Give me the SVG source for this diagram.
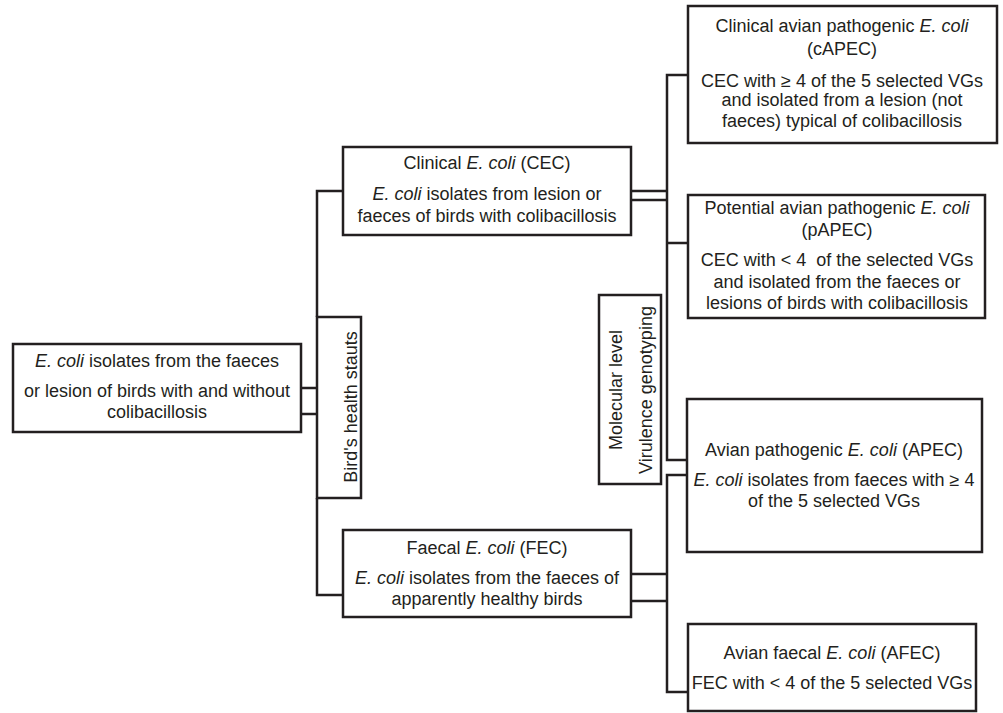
<svg xmlns="http://www.w3.org/2000/svg" width="1003" height="713" viewBox="0 0 1003 713">
<style>
.box{fill:#fff;stroke:#231f20;stroke-width:2.5}
.ln{fill:none;stroke:#231f20;stroke-width:2.5}
text{font-family:"Liberation Sans",Arial,sans-serif;font-size:18px;fill:#231f20;text-anchor:middle}
.i{font-style:italic}
</style>
<rect width="1003" height="713" fill="#fff"/>
<g id="connectors">
<path class="ln" d="M301,388H317M301,414H317"/>
<path class="ln" d="M343,191H317V317M317,498V595H343"/>
<path class="ln" d="M631,191H667M631,200H667"/>
<path class="ln" d="M688,75H667V460H687M667,243H688"/>
<path class="ln" d="M631,574H667M631,601H667"/>
<path class="ln" d="M687,475H667V692H688"/>
</g>
<g id="root">
<rect class="box" x="13" y="344" width="288" height="88"/>
<text x="157" y="367"><tspan class="i">E. coli</tspan> isolates from the faeces</text>
<text x="157" y="397">or lesion of birds with and without</text>
<text x="157" y="418">colibacillosis</text>
</g>
<g id="health">
<rect class="box" x="317" y="317" width="44" height="181"/>
<text transform="translate(357,407) rotate(-90)">Bird's health stauts</text>
</g>
<g id="cec">
<rect class="box" x="343" y="147" width="288" height="88"/>
<text x="487" y="169">Clinical <tspan class="i">E. coli</tspan> (CEC)</text>
<text x="487" y="200"><tspan class="i">E. coli</tspan> isolates from lesion or</text>
<text x="487" y="222">faeces of birds with colibacillosis</text>
</g>
<g id="fec">
<rect class="box" x="343" y="530" width="288" height="87"/>
<text x="487" y="554">Faecal <tspan class="i">E. coli</tspan> (FEC)</text>
<text x="487" y="584"><tspan class="i">E. coli</tspan> isolates from the faeces of</text>
<text x="487" y="605">apparently healthy birds</text>
</g>
<g id="molecular">
<rect class="box" x="599" y="295" width="62" height="189"/>
<text transform="translate(622,390) rotate(-90)">Molecular level</text>
<text transform="translate(652,390) rotate(-90)">Virulence genotyping</text>
</g>
<g id="capec">
<rect class="box" x="688" y="6" width="309" height="137"/>
<text x="842" y="32">Clinical avian pathogenic <tspan class="i">E. coli</tspan></text>
<text x="842" y="55">(cAPEC)</text>
<text x="842" y="87">CEC with ≥ 4 of the 5 selected VGs</text>
<text x="842" y="106">and isolated from a lesion (not</text>
<text x="842" y="127">faeces) typical of colibacillosis</text>
</g>
<g id="papec">
<rect class="box" x="688" y="195" width="297" height="123"/>
<text x="837" y="214">Potential avian pathogenic <tspan class="i">E. coli</tspan></text>
<text x="837" y="236">(pAPEC)</text>
<text x="837" y="266">CEC with &lt; 4&#160; of the selected VGs</text>
<text x="837" y="288">and isolated from the faeces or</text>
<text x="837" y="309">lesions of birds with colibacillosis</text>
</g>
<g id="apec">
<rect class="box" x="687" y="399" width="295" height="153"/>
<text x="834" y="456">Avian pathogenic <tspan class="i">E. coli</tspan> (APEC)</text>
<text x="834" y="486"><tspan class="i">E. coli</tspan> isolates from faeces with ≥ 4</text>
<text x="834" y="507">of the 5 selected VGs</text>
</g>
<g id="afec">
<rect class="box" x="688" y="624" width="288" height="87"/>
<text x="832" y="659">Avian faecal <tspan class="i">E. coli</tspan> (AFEC)</text>
<text x="832" y="689">FEC with &lt; 4 of the 5 selected VGs</text>
</g>
</svg>
